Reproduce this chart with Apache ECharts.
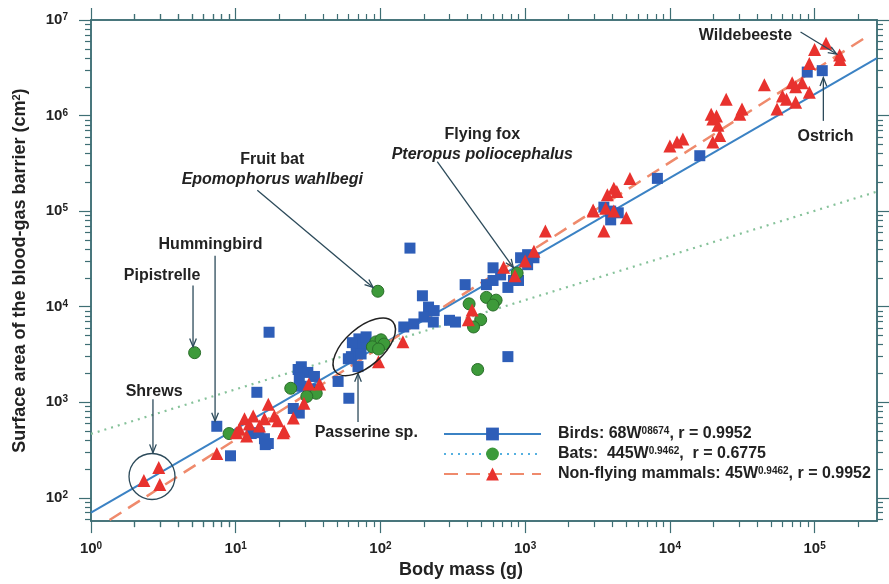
<!DOCTYPE html>
<html>
<head>
<meta charset="utf-8">
<script src="https://cdn.jsdelivr.net/npm/echarts@6/dist/echarts.min.js"></script>
<style>html,body{margin:0;padding:0;background:#fff}#chart{width:889px;height:584px}</style>
</head>
<body>
<div id="chart"></div>
<script>
// body mass (g), surface area (cm2)
var birds = [
  [7.4, 560], [9.2, 275], [14, 1270], [17, 5400], [12.8, 470], [15.8, 415], [16.8, 370], [14.5, 480], [16, 360],
  [27, 2200], [27.5, 770], [28.4, 2350], [31.5, 2050], [27.5, 1750], [35, 1860], [33.3, 1370], [28.4, 1470], [25, 860],
  [51, 1650], [60.5, 1100], [70, 2360],
  [71, 4600], [76, 4060], [68, 3600], [63, 3000], [73.5, 3200], [60, 2850], [79.6, 4830], [64, 4200],
  [145, 6130], [170, 6600],
  [195, 13000], [215, 9900], [200, 7800], [232, 6900], [235, 9100], [300, 7200], [330, 6900],
  [385, 17000], [540, 17000], [600, 18800], [677, 21500], [760, 15900], [830, 18800], [900, 18800],
  [600, 25500], [930, 32500], [1040, 35000], [1150, 32500], [1040, 27500],
  [760, 3000], [160, 41000],
  [3500, 110000], [3900, 100000], [3900, 81000], [4400, 96000], [8200, 220000], [16100, 380000],
  [89000, 2850000], [113000, 2950000]
];
var bats = [
  [5.2, 3300], [9, 470], [24, 1400], [36, 1240], [31, 1150],
  [93, 4280], [101, 4500], [106, 4060], [88, 3800], [97, 3600],
  [96, 14500],
  [410, 10700], [493, 7300], [440, 6130], [540, 12500], [630, 11700], [600, 10400], [470, 2200],
  [880, 22500]
];
var mammals = [
  [2.32, 152], [2.94, 207], [2.99, 138],
  [7.4, 290], [10.1, 480], [10.6, 525], [11.5, 670], [12.4, 590], [13.2, 716], [15.8, 670], [16.8, 950],
  [18.5, 716], [21.3, 478], [25, 683], [19.5, 640], [14.6, 564], [11.9, 444],
  [32, 1550], [38, 1550], [29.6, 975], [21.6, 500],
  [97, 2650], [143, 4290],
  [430, 9200], [405, 7300],
  [710, 25800], [1150, 38000], [1380, 62000], [2960, 100000], [1000, 30000], [850, 21000],
  [120000, 5700000], [100000, 4900000], [149000, 4300000], [150000, 3850000], [92000, 3500000],
  [45000, 2100000], [70000, 2200000], [82000, 2200000], [74000, 2000000], [92000, 1750000],
  [60000, 1600000], [64000, 1480000], [74000, 1380000], [55000, 1170000],
  [24500, 1480000], [19300, 1030000], [19800, 920000], [21000, 990000], [21500, 790000],
  [31500, 1170000], [30400, 1030000], [22100, 620000], [19800, 530000],
  [12300, 570000], [10000, 480000], [11200, 530000],
  [5300, 220000], [4100, 173000], [4300, 160000], [3700, 148000],
  [2950, 103000], [3600, 107000], [4100, 100000], [5000, 85000], [3500, 62000]
];
var birdsFit = [[1, 70], [270000, 4000000]];
var batsFit = [[1, 466], [270000, 160000]];
var mammalsFit = [[1, 44], [230000, 6700000]];

var xTicks = [1, 10, 100, 1000, 10000, 100000];
var yTicks = [100, 1000, 10000, 100000, 1000000, 10000000];
var legendText = {
  'Birds': 'Birds: 68W{s|08674}, r = 0.9952',
  'Bats': 'Bats:  445W{s|0.9462},  r = 0.6775',
  'Non-flying mammals': 'Non-flying mammals: 45W{s|0.9462}, r = 0.9952'
};
var notes = [
  { text: 'Wildebeeste', at: [33300, 6800000], from: [80000, 7500000], to: [142000, 4400000] },
  { text: 'Ostrich', at: [119000, 600000], from: [115000, 880000], to: [115000, 2500000] },
  { text: '{n|Flying fox}\n{i|Pteropus poliocephalus}', at: [506, 500000], from: [247, 330000], to: [829, 25600] },
  { text: '{n|Fruit bat}\n{i|Epomophorus wahlbegi}', at: [17.9, 270000], from: [14.1, 165000], to: [89, 15900] },
  { text: 'Hummingbird', at: [6.7, 44500], from: [7.2, 34200], to: [7.2, 635] },
  { text: 'Pipistrelle', at: [3.1, 21200], from: [5.07, 16700], to: [5.07, 3800] },
  { text: 'Shrews', at: [2.73, 1300], from: [2.68, 1075], to: [2.68, 296] },
  { text: 'Passerine sp.', at: [79.8, 477], from: [70, 621], to: [70, 2000] }
];
var shrewCircle = [2.64, 167];
var passerineEllipse = [77.3, 3800];

var font = '"Liberation Sans", Arial, sans-serif';
var axisColor = '#3e6e74';
var inkColor = '#2c4a5a';

function minors(majors) {
  var out = [];
  majors.forEach(function (m) { for (var k = 2; k < 10; k++) out.push(m * k); });
  return out;
}
var xMinor = minors([1].concat(xTicks));
var yMinor = minors([10].concat(yTicks));

var tickLabel = {
  margin: 20,
  formatter: function (v) { return '{b|10}{s|' + Math.round(Math.log10(v)) + '}'; },
  rich: {
    b: { fontSize: 15, fontWeight: 'bold', fontFamily: font, color: '#222' },
    s: { fontSize: 10, fontWeight: 'bold', fontFamily: font, color: '#222', verticalAlign: 'top' }
  }
};

function axis(kind, pos, ticks, len, withLabels) {
  var a = {
    type: 'log', logBase: 10, position: pos,
    min: kind === 'x' ? 1 : 57, max: kind === 'x' ? 270000 : 10000000,
    axisLine: { show: true, onZero: false, lineStyle: { color: axisColor, width: 1.5 } },
    axisTick: { show: true, customValues: ticks, length: len, lineStyle: { color: axisColor, width: 1.2 } },
    axisLabel: { show: false },
    splitLine: { show: false },
    minorTick: { show: false }
  };
  if (withLabels) {
    a.axisLabel = Object.assign({ show: true, customValues: ticks }, tickLabel);
    if (kind === 'y') a.axisLabel.margin = 23;
  }
  return a;
}

var xAxes = [
  axis('x', 'bottom', xTicks, 12, true),
  axis('x', 'bottom', xMinor, 6, false),
  axis('x', 'top', xTicks, 12, false),
  axis('x', 'top', xMinor, 6, false)
];
xAxes[0].name = 'Body mass (g)';
xAxes[0].nameLocation = 'middle';
xAxes[0].nameGap = 37;
xAxes[0].nameTextStyle = { fontSize: 18, fontWeight: 'bold', fontFamily: font, color: '#222', padding: [0, 46, 0, 0] };

var yAxes = [
  axis('y', 'left', yTicks, 12, true),
  axis('y', 'left', yMinor, 6, false),
  axis('y', 'right', yTicks, 12, false),
  axis('y', 'right', yMinor, 6, false)
];
yAxes[0].name = 'Surface area of the blood-gas barrier (cm{s|2})';
yAxes[0].nameLocation = 'middle';
yAxes[0].nameGap = 62;
yAxes[0].nameTextStyle = {
  fontSize: 18, fontWeight: 'bold', fontFamily: font, color: '#222',
  rich: { s: { fontSize: 11, fontWeight: 'bold', fontFamily: font, color: '#222', verticalAlign: 'top' } }
};

var chart = echarts.init(document.getElementById('chart'));
chart.setOption({
  animation: false,
  backgroundColor: '#fff',
  grid: { left: 91, right: 12, top: 20, bottom: 58, containLabel: false },
  xAxis: xAxes,
  yAxis: yAxes,
  legend: {
    data: [
      { name: 'Birds' },
      { name: 'Bats', lineStyle: { color: '#55b0e0' } },
      { name: 'Non-flying mammals' }
    ],
    orient: 'vertical',
    left: 438, top: 421,
    itemWidth: 97, itemHeight: 16, itemGap: 4,
    selectedMode: false,
    formatter: function (n) { return legendText[n]; },
    textStyle: {
      fontSize: 16, fontWeight: 'bold', fontFamily: font, color: '#222', padding: [0, 0, 0, 12],
      rich: { s: { fontSize: 10, fontWeight: 'bold', fontFamily: font, color: '#222', verticalAlign: 'top' } }
    }
  },
  series: [
    { name: 'Birds', type: 'line', data: birdsFit, showSymbol: false, symbol: 'rect', z: 2, silent: true,
      lineStyle: { color: '#3b82c4', width: 2 }, itemStyle: { color: '#2e5eb8' } },
    { name: 'Bats', type: 'line', data: batsFit, showSymbol: false, symbol: 'circle', z: 2, silent: true,
      lineStyle: { color: '#86c29a', width: 2.2, type: [2, 5] }, itemStyle: { color: '#3d9a3a' } },
    { name: 'Non-flying mammals', type: 'line', data: mammalsFit, showSymbol: false, symbol: 'triangle', z: 2, silent: true,
      lineStyle: { color: '#ef8a6c', width: 2.5, type: [14, 8] }, itemStyle: { color: '#e8322e' } },
    { name: 'birds points', type: 'scatter', data: birds, symbol: 'rect', symbolSize: 11, z: 3,
      itemStyle: { color: '#2e5eb8', opacity: 1 } },
    { name: 'bats points', type: 'scatter', data: bats, symbol: 'circle', symbolSize: 12, z: 3,
      itemStyle: { color: '#3d9a3a', borderColor: '#2a6e2a', borderWidth: 1, opacity: 1 } },
    { name: 'mammal points', type: 'scatter', data: mammals, symbol: 'triangle', symbolSize: 13, z: 3,
      itemStyle: { color: '#e8322e', opacity: 1 } }
  ]
});

// annotations: labels, arrows, circles placed from data coordinates
function px(p) { return chart.convertToPixel({ xAxisIndex: 0, yAxisIndex: 0 }, p); }
var graphics = [];
notes.forEach(function (n) {
  var t = px(n.at);
  graphics.push({
    type: 'text', x: t[0], y: t[1], z: 10,
    style: {
      text: n.text, align: 'center', verticalAlign: 'middle',
      fontSize: 16, fontWeight: 'bold', fontFamily: font, fill: '#222', lineHeight: 20,
      rich: {
        n: { fontSize: 16, fontWeight: 'bold', fontFamily: font, fill: '#222', lineHeight: 20 },
        i: { fontSize: 16, fontWeight: 'bold', fontStyle: 'italic', fontFamily: font, fill: '#222', lineHeight: 20 }
      }
    }
  });
  var a = px(n.from), b = px(n.to);
  var ang = Math.atan2(b[1] - a[1], b[0] - a[0]);
  var h = 9, w = 0.38;
  graphics.push({ type: 'polyline', z: 10, shape: { points: [a, b] },
    style: { stroke: inkColor, lineWidth: 1.3, fill: null } });
  graphics.push({ type: 'polyline', z: 10,
    shape: { points: [
      [b[0] - h * Math.cos(ang - w), b[1] - h * Math.sin(ang - w)], b,
      [b[0] - h * Math.cos(ang + w), b[1] - h * Math.sin(ang + w)]
    ] },
    style: { stroke: inkColor, lineWidth: 1.3, fill: null } });
});
var c = px(shrewCircle);
graphics.push({ type: 'circle', z: 10, shape: { cx: c[0], cy: c[1], r: 23 },
  style: { stroke: inkColor, lineWidth: 1.3, fill: null } });
var e = px(passerineEllipse);
graphics.push({ type: 'ellipse', z: 10, x: e[0], y: e[1], rotation: 0.72,
  shape: { cx: 0, cy: 0, rx: 38, ry: 19 },
  style: { stroke: '#222', lineWidth: 1.5, fill: null } });
chart.setOption({ graphic: graphics });
</script>
</body>
</html>
